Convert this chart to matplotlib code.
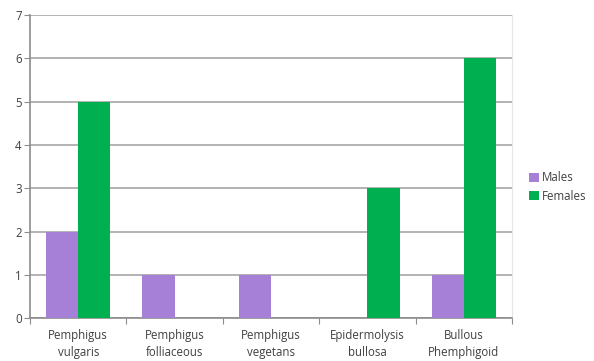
import numpy as np
import matplotlib
matplotlib.use('Agg')
import matplotlib.pyplot as plt

plt.rcParams['font.family'] = ['Open Sans', 'DejaVu Sans']

categories = ['Pemphigus\nvulgaris', 'Pemphigus\nfolliaceous', 'Pemphigus\nvegetans',
              'Epidermolysis\nbullosa', 'Bullous\nPhemphigoid']
males = [2, 1, 1, 0, 1]
females = [5, 0, 0, 3, 6]

fig = plt.figure(figsize=(5.94, 3.61), dpi=100)
ax = fig.add_axes([0.0505, 0.119, 0.8115, 0.839])

x = np.arange(len(categories))
w = 1 / 3
ax.bar(x - w / 2, males, w, color='#a67fd6', label='Males', zorder=3)
ax.bar(x + w / 2, females, w, color='#00b050', label='Females', zorder=3)

ax.set_xlim(-0.5, len(categories) - 0.5)
ax.set_ylim(0, 7)
ax.set_yticks(range(8))
ax.grid(axis='y', color='#a6a6a6', linewidth=1.2, zorder=0)

# category ticks sit between groups, labels stay centred
ax.set_xticks(np.arange(-0.5, len(categories) + 0.5, 1))
ax.set_xticklabels([])
ax.set_xticks(x, minor=True)
ax.set_xticklabels(categories, minor=True, fontsize=8.3, color='#404040', linespacing=1.35)
ax.tick_params(axis='x', which='minor', length=0, pad=8)
ax.tick_params(axis='x', which='major', length=4, color='#8c8c8c')
ax.tick_params(axis='y', length=4, color='#8c8c8c', labelsize=8.3, labelcolor='#404040', pad=2)

for s in ['left', 'bottom']:
    ax.spines[s].set_color('#8c8c8c')
    ax.spines[s].set_linewidth(1.2)
ax.spines['top'].set_visible(False)
ax.spines['right'].set_color('#e6e6e6')

fig.legend(loc='center left', bbox_to_anchor=(0.883, 0.482), frameon=False,
           fontsize=8.3, handlelength=0.9, handleheight=0.9, handletextpad=0.2,
           labelspacing=0.45, borderaxespad=0, labelcolor='#404040')

fig.savefig('out.png', dpi=100)
